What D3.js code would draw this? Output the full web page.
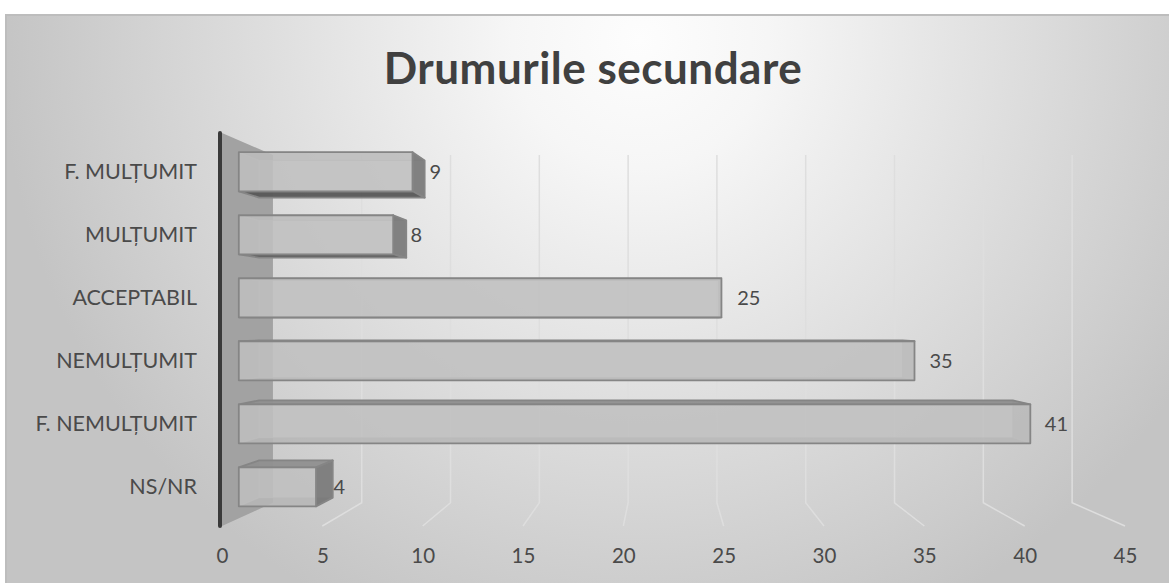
<!DOCTYPE html>
<html lang="ro">

<head>
    <meta charset="UTF-8">
    <script src="https://d3js.org/d3.v7.min.js"></script>
    <title>Drumurile secundare</title>
    <style>
        body { margin: 0; background: #fff; }
        text { font-family: Lato, "Open Sans", sans-serif; }
    </style>
</head>

<body>
    <svg class="chart"></svg>
    <script>
        // data (top to bottom)
        var categories = ["F. MULȚUMIT", "MULȚUMIT", "ACCEPTABIL", "NEMULȚUMIT", "F. NEMULȚUMIT", "NS/NR"];
        var values = [9, 8, 25, 35, 41, 4];
        var ticks = [0, 5, 10, 15, 20, 25, 30, 35, 40, 45];
        var title = "Drumurile secundare";

        var W = 1169, H = 583;
        var svg = d3.select(".chart")
            .attr("width", W)
            .attr("height", H);

        // background gradient
        var defs = svg.append("defs");
        var grad = defs.append("radialGradient")
            .attr("id", "bg")
            .attr("gradientUnits", "userSpaceOnUse")
            .attr("cx", 640).attr("cy", 40).attr("r", 640);
        grad.append("stop").attr("offset", 0).attr("stop-color", "#fdfdfd");
        grad.append("stop").attr("offset", 0.2).attr("stop-color", "#f6f6f6");
        grad.append("stop").attr("offset", 1).attr("stop-color", "#c4c4c4");

        svg.append("rect")
            .attr("x", 6).attr("y", 15)
            .attr("width", W).attr("height", H)
            .attr("fill", "url(#bg)")
            .attr("stroke", "#bdbdbd")
            .attr("stroke-width", 2);

        // front-plane scales
        var x = d3.scaleLinear().domain([0, 45]).range([222, 1125]);
        var y = d3.scaleBand().domain(categories).range([133, 526])
            .paddingInner(0.38).paddingOuter(0.19);

        // simple perspective: depth t in [0,1], 0 = front, 1 = back wall
        var vx = 665, vy = 324, K = 0.115;
        function proj(X, Y, t) {
            var s = 1 - K * t;
            return [vx + s * (X - vx), vy + s * (Y - vy)];
        }
        var line = d3.line();

        // side wall
        var X0 = x(0);
        svg.append("path")
            .attr("d", line([proj(X0, 133, 0), proj(X0, 133, 1), proj(X0, 526, 1), proj(X0, 526, 0)]) + "Z")
            .attr("fill", "#a2a2a2");

        // gridlines on back wall and floor
        ticks.slice(1).forEach(function(v) {
            svg.append("path")
                .attr("d", line([proj(x(v), 133, 1), proj(x(v), 526, 1), proj(x(v), 526, 0)]))
                .attr("fill", "none")
                .attr("stroke", "#dedede")
                .attr("stroke-width", 1.5);
        });

        // axis line
        svg.append("line")
            .attr("x1", X0 - 2).attr("y1", 133)
            .attr("x2", X0 - 2).attr("y2", 526)
            .attr("stroke", "#3a3a3a")
            .attr("stroke-width", 4)
            .attr("stroke-linecap", "round");

        // bars as translucent boxes
        var t0 = 0.33, t1 = 0.73;
        var faceFill = { front: "#c0c0c0", back: "#b8b8b8", left: "#b0b0b0", right: "#7a7a7a", top: "#8e8e8e", bottom: "#555555" };

        function area(p) {
            var a = 0;
            for (var i = 0; i < p.length; i++) {
                var j = (i + 1) % p.length;
                a += p[i][0] * p[j][1] - p[j][0] * p[i][1];
            }
            return a / 2;
        }

        values.forEach(function(v, i) {
            var c = categories[i];
            var a = x(0), b = x(v), Y0 = y(c), Y1 = y(c) + y.bandwidth();
            var faces = [
                { k: "back", p: [[b, Y0, t1], [a, Y0, t1], [a, Y1, t1], [b, Y1, t1]] },
                { k: "left", p: [[a, Y0, t1], [a, Y0, t0], [a, Y1, t0], [a, Y1, t1]] },
                { k: "right", p: [[b, Y0, t0], [b, Y0, t1], [b, Y1, t1], [b, Y1, t0]] },
                { k: "top", p: [[a, Y0, t1], [b, Y0, t1], [b, Y0, t0], [a, Y0, t0]] },
                { k: "bottom", p: [[a, Y1, t0], [b, Y1, t0], [b, Y1, t1], [a, Y1, t1]] },
                { k: "front", p: [[a, Y0, t0], [b, Y0, t0], [b, Y1, t0], [a, Y1, t0]] }
            ];
            faces.forEach(function(f) {
                f.s = f.p.map(function(q) { return proj(q[0], q[1], q[2]); });
                f.vis = area(f.s) > 0;
            });
            var g = svg.append("g");
            // hidden faces first, then visible ones
            faces.filter(function(f) { return !f.vis; }).concat(faces.filter(function(f) { return f.vis; }))
                .forEach(function(f) {
                    g.append("path")
                        .attr("d", line(f.s) + "Z")
                        .attr("fill", faceFill[f.k])
                        .attr("fill-opacity", f.vis ? (f.k == "front" ? 0.8 : 0.92) : 0.4)
                        .attr("stroke", f.vis ? "#858585" : "#b0b0b0")
                        .attr("stroke-opacity", f.vis ? 1 : 0.6)
                        .attr("stroke-width", f.vis ? 1.8 : 1)
                        .attr("stroke-linejoin", "round");
                });

            var lp = proj(b, Y0 + y.bandwidth() / 2, 0.365);
            svg.append("text")
                .attr("x", lp[0] + 16)
                .attr("y", proj(b, Y0 + y.bandwidth() / 2, t0)[1])
                .attr("dy", "0.35em")
                .attr("font-size", 20)
                .attr("fill", "#4a4a4a")
                .text(v);
        });

        // category labels
        categories.forEach(function(c) {
            var p = proj(x(0), y(c) + y.bandwidth() / 2, t0);
            svg.append("text")
                .attr("x", 197)
                .attr("y", p[1])
                .attr("dy", "0.35em")
                .attr("text-anchor", "end")
                .attr("font-size", 21.5)
                .attr("fill", "#4a4a4a")
                .text(c);
        });

        // value axis on the front edge of the floor
        var axis = svg.append("g")
            .attr("transform", "translate(0,526)")
            .call(d3.axisBottom(x).tickValues(ticks).tickSize(0).tickPadding(22));
        axis.select(".domain").remove();
        axis.selectAll("text")
            .attr("font-size", 20.5)
            .attr("font-family", "Lato, 'Open Sans', sans-serif")
            .attr("fill", "#4a4a4a");

        // title
        svg.append("text")
            .attr("x", 593)
            .attr("y", 84)
            .attr("text-anchor", "middle")
            .attr("font-size", 44)
            .attr("letter-spacing", 0.5)
            .attr("font-weight", "bold")
            .attr("fill", "#404040")
            .text(title);
    </script>
</body>

</html>
